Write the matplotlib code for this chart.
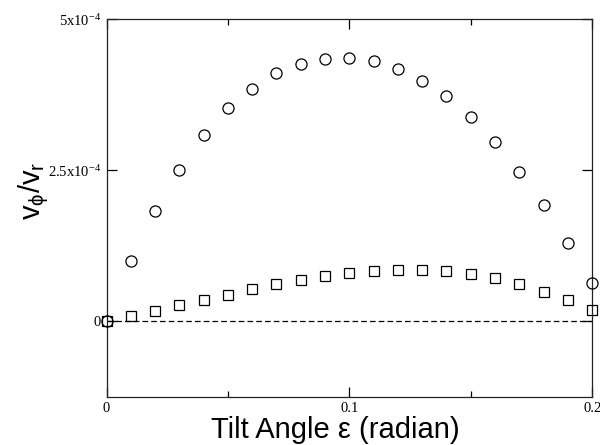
import matplotlib
matplotlib.use("Agg")
import matplotlib.pyplot as plt
import matplotlib.ticker as ticker

# tilt angle (radian)
tilt = [0.00, 0.01, 0.02, 0.03, 0.04, 0.05, 0.06, 0.07, 0.08, 0.09, 0.10,
        0.11, 0.12, 0.13, 0.14, 0.15, 0.16, 0.17, 0.18, 0.19, 0.20]

# v_phi / v_r, circles (units of 1e-4)
circles = [0.0, 0.99, 1.83, 2.51, 3.08, 3.53, 3.84, 4.11, 4.26, 4.34, 4.36,
           4.31, 4.17, 3.98, 3.72, 3.38, 2.97, 2.47, 1.92, 1.29, 0.64]

# v_phi / v_r, squares (units of 1e-4)
squares = [0.0, 0.08, 0.165, 0.26, 0.35, 0.44, 0.535, 0.62, 0.69, 0.75, 0.80,
           0.83, 0.85, 0.85, 0.83, 0.78, 0.71, 0.62, 0.49, 0.35, 0.18]

ytick_vals = [0, 2.5e-4, 5e-4]
ytick_labels = ["0", r"2.5x10$^{\mathregular{-4}}$", r"5x10$^{\mathregular{-4}}$"]
xtick_vals = [0, 0.1, 0.2]
xtick_labels = ["0", "0.1", "0.2"]

plt.rcParams["mathtext.fontset"] = "stix"

fig = plt.figure(figsize=(6, 4.45), dpi=100)
ax = fig.add_axes([0.1775, 0.1085, 0.8095, 0.8485])

ax.axhline(0, color="k", lw=0.9, ls=(0, (4.5, 2.5)), zorder=1)
ax.plot(tilt, [c * 1e-4 for c in circles], "o", mfc="none", mec="k",
        ms=8, mew=0.9, ls="none", clip_on=False, zorder=3)
ax.plot(tilt, [s * 1e-4 for s in squares], "s", mfc="none", mec="k",
        ms=6.8, mew=0.9, ls="none", clip_on=False, zorder=3)

ax.set_xlim(0, 0.2)
ax.set_ylim(-1.25e-4, 5e-4)

ax.xaxis.set_major_locator(ticker.FixedLocator(xtick_vals))
ax.xaxis.set_major_formatter(ticker.FixedFormatter(xtick_labels))
ax.xaxis.set_minor_locator(ticker.FixedLocator([0.05, 0.15]))
ax.yaxis.set_major_locator(ticker.FixedLocator(ytick_vals))
ax.yaxis.set_major_formatter(ticker.FixedFormatter(ytick_labels))

ax.tick_params(which="both", direction="in", top=True, right=True,
               width=0.9, colors="k")
ax.tick_params(which="major", length=7)
ax.tick_params(which="minor", length=4.5)
ax.tick_params(axis="x", pad=4)
ax.tick_params(axis="y", pad=4)
for lab in ax.get_xticklabels() + ax.get_yticklabels():
    lab.set_family(["Liberation Serif"])
    lab.set_fontsize(10.5)

for sp in ax.spines.values():
    sp.set_linewidth(0.9)
    sp.set_color("#222222")

ax.set_xlabel("Tilt Angle \u03b5 (radian)", family=["Liberation Sans"],
              fontsize=21)
ax.xaxis.set_label_coords(0.471, -0.05)
ax.set_ylabel(r"$\mathregular{v_{\phi}/v_r}$", family=["Liberation Sans"],
              fontsize=21)
ax.yaxis.set_label_coords(-0.115, 0.545)

fig.savefig("out.png", dpi=100)
